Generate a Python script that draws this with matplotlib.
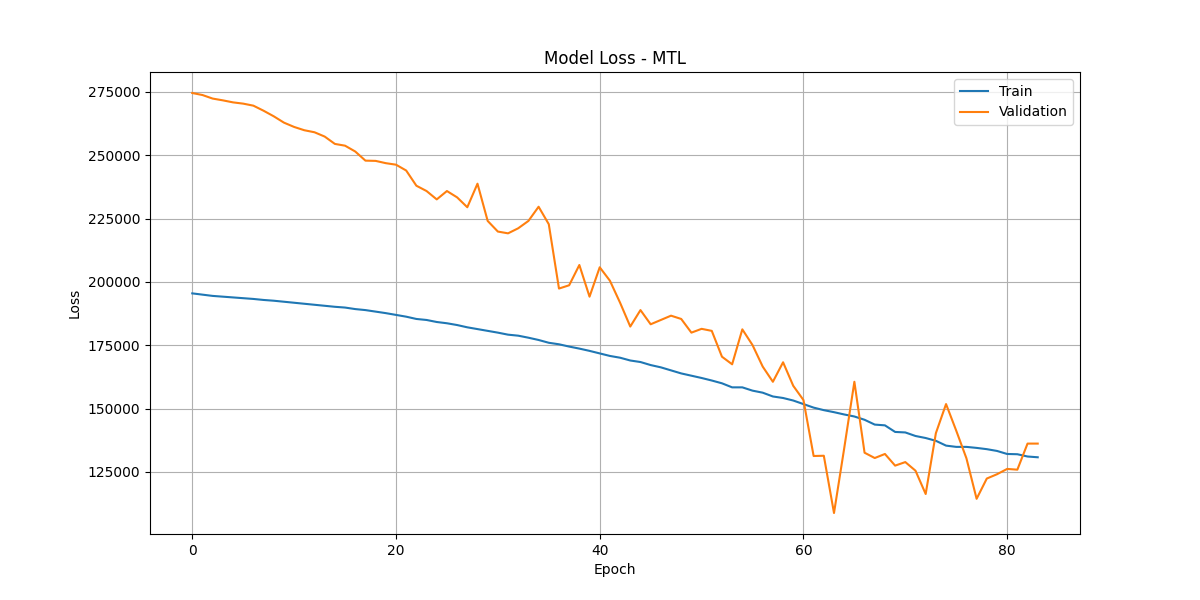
import matplotlib
matplotlib.use("Agg")
import matplotlib.pyplot as plt

# Loss values
train_loss = [
    195500, 195000, 194500, 194200, 193900, 193600, 193300, 192900, 192600, 192200,
    191800, 191400, 191000, 190600, 190200, 189900, 189300, 188900, 188300, 187700,
    187000, 186300, 185400, 185000, 184200, 183700, 183000, 182100, 181400, 180700,
    180000, 179200, 178800, 178000, 177100, 176000, 175400, 174500, 173700, 172800,
    171800, 170800, 170100, 169000, 168400, 167200, 166300, 165100, 163900, 163000,
    162100, 161100, 160000, 158400, 158400, 157100, 156300, 154800, 154200, 153200,
    151800, 150400, 149400, 148600, 147700, 146900, 145600, 143700, 143400, 140800,
    140600, 139200, 138400, 137300, 135400, 134900, 134900, 134500, 134000, 133300,
    132100, 132000, 131100, 130800,
]
val_loss = [
    274600, 273800, 272400, 271700, 270900, 270400, 269600, 267600, 265400, 262900,
    261200, 259900, 259100, 257400, 254500, 253800, 251500, 247900, 247800, 246900,
    246300, 244000, 238000, 235900, 232600, 235900, 233400, 229500, 238800, 224100,
    219900, 219200, 221200, 224100, 229700, 222800, 197400, 198700, 206700, 194200,
    205800, 200500, 191800, 182400, 188900, 183300, 185000, 186700, 185400, 180000,
    181500, 180700, 170500, 167500, 181300, 175100, 166600, 160600, 168300, 159000,
    153400, 131300, 131400, 108800, 134300, 160600, 132600, 130500, 132100, 127500,
    128900, 125500, 116300, 140300, 151800, 141300, 130400, 114400, 122400, 124100,
    126200, 125900, 136200, 136200,
]
epochs = list(range(len(train_loss)))

fig, ax = plt.subplots(figsize=(12, 6), dpi=100)
ax.plot(epochs, train_loss, label="Train")
ax.plot(epochs, val_loss, label="Validation")
ax.set_title("Model Loss - MTL")
ax.set_xlabel("Epoch")
ax.set_ylabel("Loss")
ax.legend(loc="upper right")
ax.grid(True)

plt.savefig("out.png")
